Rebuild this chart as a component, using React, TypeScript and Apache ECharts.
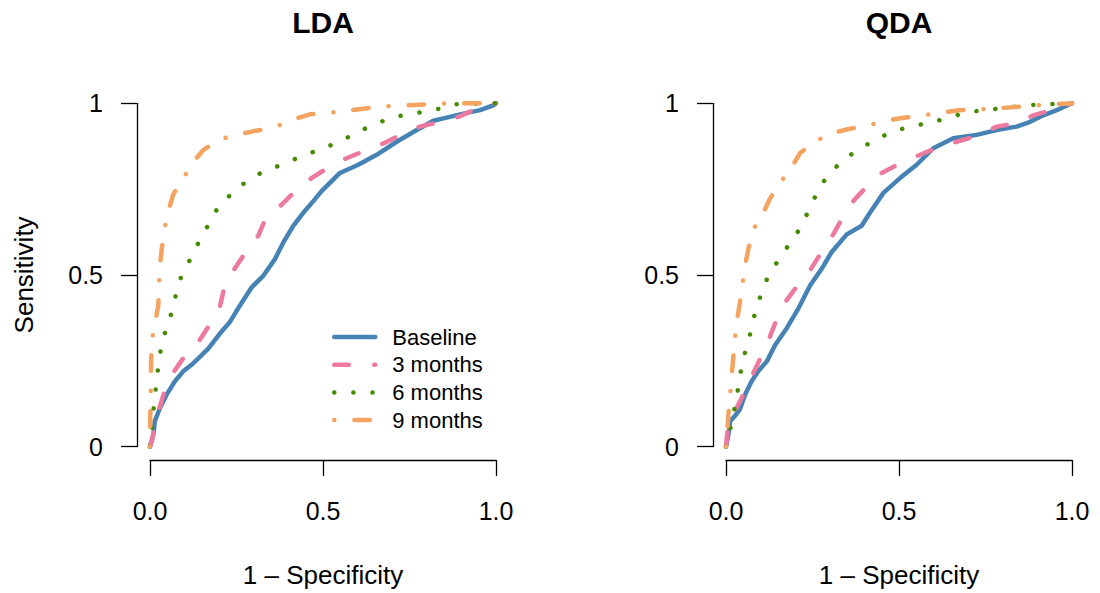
import React, { useEffect, useRef } from "react";
import * as echarts from "echarts";

// ---------- data ----------
const panelTitles = ["LDA", "QDA"];
const seriesNames = ["Baseline", "3 months", "6 months", "9 months"];
const seriesColors = ["#4682B4", "#EE799F", "#458B00", "#F4A460"];
const xTickLabels = ["0.0", "0.5", "1.0"];
const yTickLabels = ["0", "0.5", "1"];
const xAxisTitle = "1 \u2013 Specificity";
const yAxisTitle = "Sensitivity";

// LDA curves: [1 - specificity, sensitivity]
const ldaBaseline = [
  [0, 0], [0.01, 0.036], [0.014, 0.074], [0.029, 0.113], [0.048, 0.151], [0.072, 0.19],
  [0.096, 0.219], [0.12, 0.238], [0.145, 0.262], [0.169, 0.286], [0.202, 0.329], [0.231, 0.363],
  [0.26, 0.411], [0.294, 0.464], [0.328, 0.498], [0.361, 0.546], [0.385, 0.594], [0.414, 0.643],
  [0.443, 0.681], [0.472, 0.715], [0.496, 0.744], [0.52, 0.768], [0.549, 0.797], [0.602, 0.821],
  [0.655, 0.85], [0.713, 0.888], [0.771, 0.922], [0.819, 0.949], [0.848, 0.956], [0.906, 0.97],
  [0.954, 0.98], [0.992, 0.994], [1, 1],
];
const lda3m = [
  [0, 0], [0.005, 0.016], [0.019, 0.084], [0.039, 0.151], [0.063, 0.209], [0.106, 0.272],
  [0.14, 0.305], [0.178, 0.363], [0.202, 0.407], [0.217, 0.474], [0.241, 0.513], [0.279, 0.57],
  [0.313, 0.614], [0.337, 0.671], [0.381, 0.705], [0.424, 0.749], [0.467, 0.782], [0.52, 0.816],
  [0.568, 0.84], [0.626, 0.864], [0.679, 0.885], [0.732, 0.912], [0.78, 0.932], [0.848, 0.948],
  [0.896, 0.962], [0.963, 0.994], [1, 1],
];
const lda6m = [
  [0, 0], [0.002, 0.026], [0.014, 0.144], [0.027, 0.261], [0.039, 0.319], [0.058, 0.374],
  [0.072, 0.431], [0.087, 0.487], [0.113, 0.539], [0.139, 0.592], [0.167, 0.643], [0.195, 0.694],
  [0.234, 0.735], [0.278, 0.772], [0.329, 0.802], [0.384, 0.822], [0.438, 0.846], [0.493, 0.866],
  [0.548, 0.888], [0.6, 0.916], [0.653, 0.941], [0.709, 0.961], [0.768, 0.971], [0.826, 0.982],
  [0.881, 0.997], [1, 1],
];
const lda9m = [
  [0, 0], [0, 0.045], [0.002, 0.146], [0.003, 0.236], [0.005, 0.308], [0.017, 0.373],
  [0.024, 0.411], [0.026, 0.469], [0.029, 0.527], [0.034, 0.575], [0.041, 0.63], [0.053, 0.686],
  [0.067, 0.734], [0.096, 0.781], [0.125, 0.83], [0.154, 0.864], [0.202, 0.895], [0.25, 0.908],
  [0.306, 0.92], [0.359, 0.93], [0.409, 0.951], [0.462, 0.968], [0.515, 0.972], [0.568, 0.978],
  [0.621, 0.985], [0.676, 0.991], [0.732, 0.994], [0.78, 0.996], [0.838, 0.999], [0.891, 1],
  [1, 1],
];

// QDA curves
const qdaBaseline = [
  [0, 0], [0.007, 0.036], [0.012, 0.074], [0.026, 0.089], [0.04, 0.108], [0.055, 0.151],
  [0.074, 0.19], [0.093, 0.219], [0.118, 0.248], [0.142, 0.296], [0.175, 0.344], [0.209, 0.402],
  [0.243, 0.469], [0.276, 0.517], [0.305, 0.566], [0.349, 0.618], [0.392, 0.643], [0.416, 0.681],
  [0.455, 0.739], [0.503, 0.782], [0.551, 0.821], [0.599, 0.869], [0.657, 0.898], [0.724, 0.908],
  [0.782, 0.922], [0.84, 0.932], [0.879, 0.946], [0.917, 0.965], [0.956, 0.98], [1, 1],
];
const qda3m = [
  [0, 0], [0.007, 0.074], [0.016, 0.098], [0.031, 0.113], [0.06, 0.171], [0.079, 0.214],
  [0.108, 0.276], [0.127, 0.32], [0.151, 0.382], [0.175, 0.426], [0.214, 0.479], [0.243, 0.513],
  [0.281, 0.575], [0.31, 0.618], [0.339, 0.671], [0.368, 0.715], [0.416, 0.768], [0.45, 0.797],
  [0.513, 0.83], [0.561, 0.85], [0.618, 0.874], [0.667, 0.888], [0.734, 0.908], [0.782, 0.932],
  [0.84, 0.941], [0.888, 0.965], [0.946, 0.982], [1, 1],
];
const qda6m = [
  [0, 0], [0.019, 0.082], [0.031, 0.142], [0.039, 0.199], [0.05, 0.257], [0.067, 0.315],
  [0.079, 0.371], [0.096, 0.428], [0.116, 0.483], [0.145, 0.533], [0.177, 0.581], [0.21, 0.629],
  [0.236, 0.681], [0.26, 0.733], [0.289, 0.783], [0.329, 0.826], [0.374, 0.86], [0.425, 0.89],
  [0.477, 0.916], [0.534, 0.933], [0.592, 0.943], [0.647, 0.96], [0.705, 0.975], [0.823, 0.989],
  [0.881, 0.995], [1, 1],
];
const qda9m = [
  [0, 0], [0.003, 0.036], [0.007, 0.095], [0.012, 0.151], [0.016, 0.204], [0.021, 0.257],
  [0.026, 0.315], [0.031, 0.363], [0.04, 0.418], [0.048, 0.474], [0.053, 0.517], [0.065, 0.577],
  [0.079, 0.633], [0.103, 0.671], [0.127, 0.722], [0.156, 0.768], [0.185, 0.806], [0.214, 0.855],
  [0.257, 0.888], [0.301, 0.912], [0.355, 0.925], [0.411, 0.936], [0.46, 0.949], [0.514, 0.958],
  [0.57, 0.965], [0.618, 0.972], [0.674, 0.98], [0.729, 0.982], [0.777, 0.985], [0.837, 0.989],
  [0.893, 0.994], [0.946, 0.997], [1, 1],
];

const panelData = [
  [ldaBaseline, lda3m, lda6m, lda9m],
  [qdaBaseline, qda3m, qda6m, qda9m],
];

// ---------- styles ----------
const FONT = "'Liberation Sans', Arial, Helvetica, sans-serif";
const LINE_W = 4.5;
const dashPatterns: any[] = ["solid", [14.5, 25.5], [0.1, 19], [0.1, 20, 15.5, 20]];
const gridLefts = [150, 726];
const GRID_TOP = 103.3;
const GRID_W = 346;
const GRID_H = 345.2;

export default function App() {
  const ref = useRef<HTMLDivElement>(null);

  useEffect(() => {
    document.body.style.margin = "0";
    if (!ref.current) return;
    const chart = echarts.init(ref.current, null, { renderer: "svg" });

    const grids = gridLefts.map((left) => ({
      left,
      top: GRID_TOP,
      width: GRID_W,
      height: GRID_H,
      show: false,
    }));

    const axisLine = { show: true, onZero: false, lineStyle: { color: "#000", width: 1.3 } };
    const axisTick = { show: true, inside: false, length: 16, lineStyle: { color: "#000", width: 1.3 } };

    const xAxes = gridLefts.map((_, i) => ({
      type: "value",
      gridIndex: i,
      min: 0,
      max: 1,
      interval: 0.5,
      offset: 13.5,
      axisLine,
      axisTick,
      splitLine: { show: false },
      axisLabel: {
        margin: 38,
        fontSize: 25,
        lineHeight: 25,
        fontFamily: FONT,
        color: "#000",
        formatter: (v: number) => xTickLabels[Math.round(v * 2)],
      },
      name: xAxisTitle,
      nameLocation: "middle",
      nameGap: 102,
      nameTextStyle: { fontSize: 26, lineHeight: 26, fontFamily: FONT, color: "#000" },
    }));

    const yAxes = gridLefts.map((_, i) => ({
      type: "value",
      gridIndex: i,
      min: 0,
      max: 1,
      interval: 0.5,
      offset: 13,
      axisLine,
      axisTick,
      splitLine: { show: false },
      axisLabel: {
        margin: 34,
        fontSize: 25,
        fontFamily: FONT,
        color: "#000",
        formatter: (v: number) => yTickLabels[Math.round(v * 2)],
      },
      name: i === 0 ? yAxisTitle : "",
      nameLocation: "middle",
      nameGap: 100.5,
      nameTextStyle: { fontSize: 26, lineHeight: 26, fontFamily: FONT, color: "#000" },
    }));

    const series: any[] = [];
    panelData.forEach((curves, p) => {
      curves.forEach((data, s) => {
        series.push({
          type: "line",
          name: seriesNames[s],
          xAxisIndex: p,
          yAxisIndex: p,
          data,
          symbol: "none",
          clip: false,
          smooth: false,
          color: seriesColors[s],
          lineStyle: {
            color: seriesColors[s],
            width: LINE_W,
            type: dashPatterns[s],
            cap: "round",
            join: "round",
          },
          emphasis: { disabled: true },
        });
      });
    });

    const titles = panelTitles.map((t, i) => ({
      type: "text",
      x: gridLefts[i] + GRID_W / 2,
      y: 22.5,
      style: {
        text: t,
        font: `bold 30px ${FONT}`,
        fill: "#000",
        textAlign: "center",
        textVerticalAlign: "middle",
        align: "center",
        verticalAlign: "middle",
      },
    }));

    chart.setOption({
      animation: false,
      backgroundColor: "#fff",
      grid: grids,
      xAxis: xAxes,
      yAxis: yAxes,
      series,
      legend: {
        data: seriesNames,
        orient: "vertical",
        left: 327,
        top: 321,
        itemWidth: 41,
        itemHeight: 14,
        itemGap: 5.7,
        selectedMode: false,
        itemStyle: { opacity: 0, borderWidth: 0, color: "rgba(0,0,0,0)" },
        lineStyle: { width: LINE_W, cap: "round" },
        textStyle: {
          fontSize: 22,
          lineHeight: 22,
          fontFamily: FONT,
          color: "#000",
          padding: [0, 0, 0, 12],
        },
      },
      graphic: titles,
    });

    return () => chart.dispose();
  }, []);

  return <div ref={ref} style={{ width: 1100, height: 593 }} />;
}
